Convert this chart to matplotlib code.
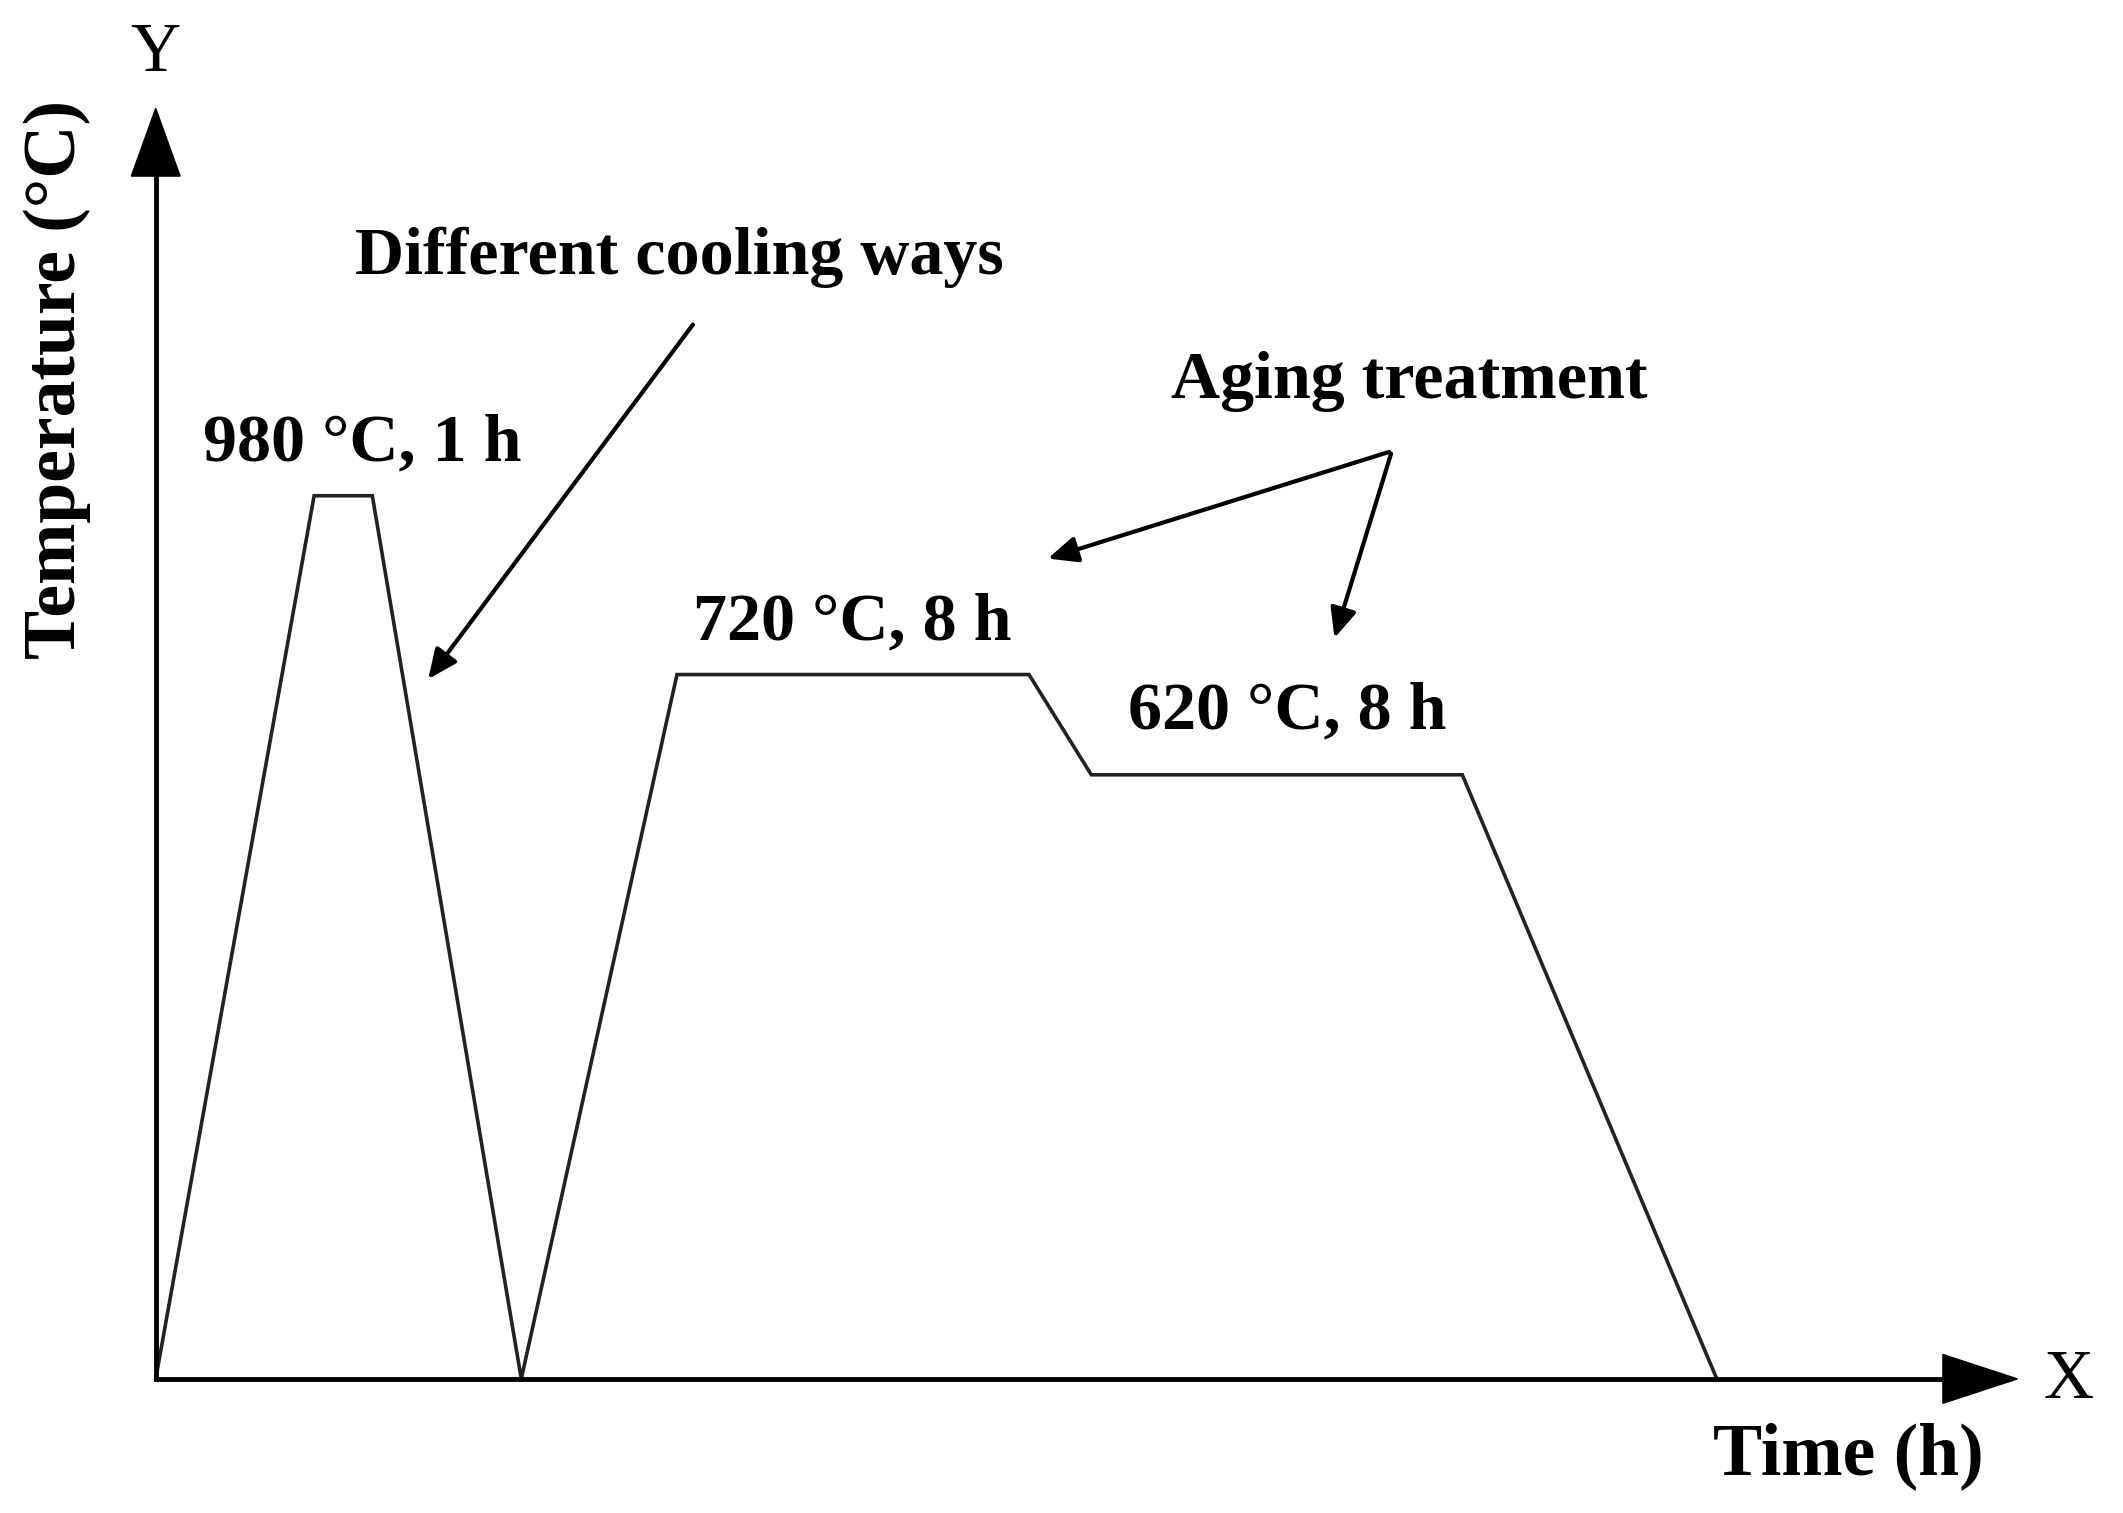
import matplotlib
matplotlib.use('Agg')
import matplotlib.pyplot as plt

plt.rcParams['font.family'] = ['Liberation Serif', 'DejaVu Serif']

# heat treatment profile (schematic, in reference-pixel units)
time_pts = [115, 232, 275, 385, 500, 760, 806, 1080, 1268]
temp_pts = [1018, 366, 366, 1018, 498, 498, 572, 572, 1018]

W, H = 1568, 1117
fig = plt.figure(figsize=(21.23, 15.13), dpi=100)
ax = fig.add_axes([0, 0, 1, 1])
ax.set_xlim(0, W)
ax.set_ylim(H, 0)
ax.axis('off')

ax.plot(time_pts, temp_pts, color='#222222', lw=2.6, solid_joinstyle='miter')

# axes with arrowheads
ax.plot([115, 1440], [1018, 1018], color='black', lw=3.5)
ax.plot([115, 115], [1018, 125], color='black', lw=3.5)
ax.fill([1435, 1490, 1435], [1000, 1018, 1036], color='black')
ax.fill([97, 115, 133], [130, 80, 130], color='black')

ax.text(115, 40, 'Y', fontsize=50, ha='center', va='center')
ax.text(1528, 1020, 'X', fontsize=50, ha='center', va='center')
ax.text(42, 280, 'Temperature (°C)', fontsize=53, fontweight='bold',
        rotation=90, ha='center', va='center')
ax.text(1365, 1075, 'Time (h)', fontsize=53, fontweight='bold', ha='center', va='center')

lab = dict(fontsize=49, fontweight='bold', va='center')
ax.text(262, 190, 'Different cooling ways', ha='left', **lab)
ax.text(865, 282, 'Aging treatment', ha='left', **lab)
ax.text(150, 328, '980 °C, 1 h', ha='left', **lab)
ax.text(512, 460, '720 °C, 8 h', ha='left', **lab)
ax.text(833, 526, '620 °C, 8 h', ha='left', **lab)

arr = dict(arrowstyle='-|>,head_length=1.8,head_width=0.8', color='black', lw=3)
ax.annotate('', xy=(315, 503), xytext=(513, 238), arrowprops=arr)
ax.annotate('', xy=(772, 413), xytext=(1028, 333), arrowprops=arr)
ax.annotate('', xy=(985, 473), xytext=(1028, 333), arrowprops=arr)

fig.savefig('out.png', dpi=100)
